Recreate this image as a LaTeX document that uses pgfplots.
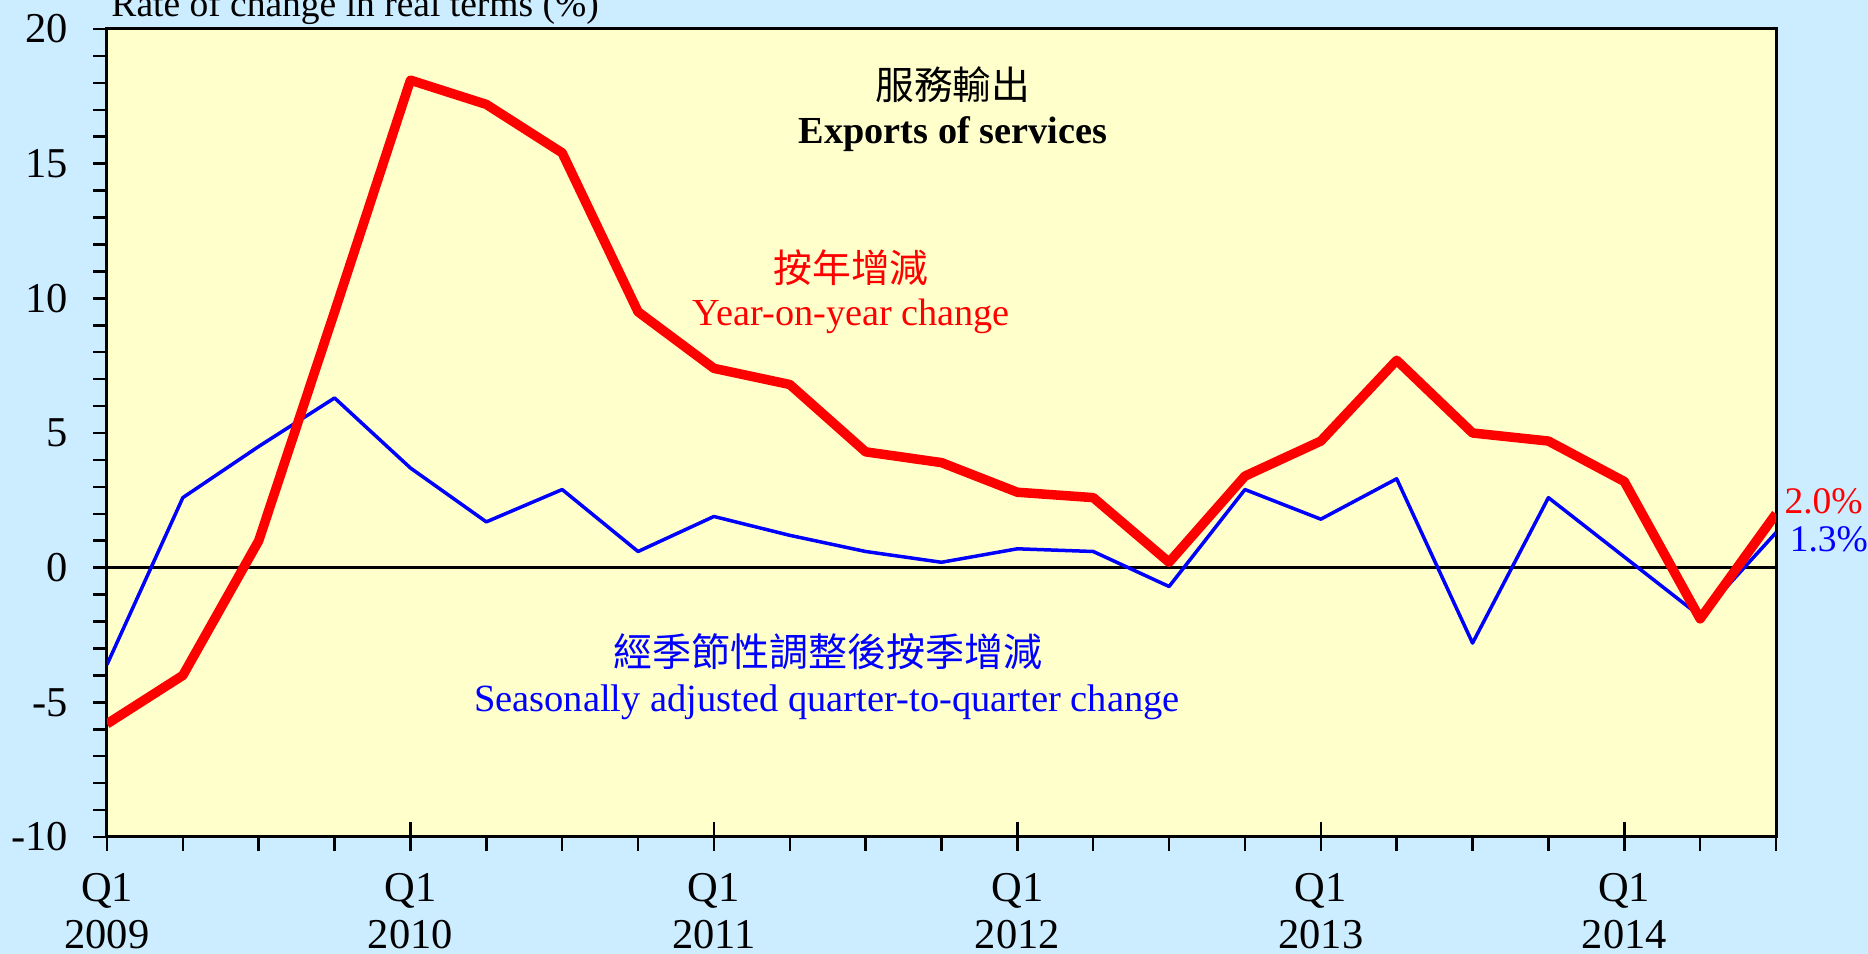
\documentclass[border=0pt]{standalone}
\usepackage{fontspec}
\setmainfont{Liberation Serif}
\newfontfamily\cjk{Noto Sans CJK TC}
\usepackage{pgfplots}
\pgfplotsset{compat=1.18}
\definecolor{bgblue}{HTML}{CCECFF}
\definecolor{plotyellow}{HTML}{FFFFCC}
\begin{document}
\begin{tikzpicture}
\fill[bgblue] (-42.8pt,-46.8pt) rectangle (704.4pt,334.8pt);
\useasboundingbox (-42.8pt,-46.8pt) rectangle (704.4pt,334.8pt);
\begin{axis}[
  at={(0,0)}, anchor=south west, scale only axis,
  width=667.6pt, height=323.2pt,
  xmin=0, xmax=22, ymin=-10, ymax=20,
  axis background/.style={fill=plotyellow},
  axis line style={black, line width=1.2pt},
  clip mode=individual,
  tick align=outside,
  xtick pos=bottom, ytick pos=left,
  major tick length=5.5pt, minor tick length=5.5pt,
  tick style={black, line width=1pt},
  xtick={0,4,8,12,16,20},
  xticklabels={{Q1\\2009},{Q1\\2010},{Q1\\2011},{Q1\\2012},{Q1\\2013},{Q1\\2014}},
  minor xtick={1,2,3,5,6,7,9,10,11,13,14,15,17,18,19,21,22},
  ytick={-10,-5,...,20},
  minor ytick={-9,...,19},
  xticklabel style={align=center, font=\fontsize{17}{18.8}\selectfont, yshift=-5.5pt},
  yticklabel style={font=\fontsize{17}{18}\selectfont, xshift=-6.5pt},
  /pgf/number format/assume math mode=true,
]
\addplot[black, line width=1pt] coordinates {(0,0) (22,0)};
\pgfplotsinvokeforeach{4,8,12,16,20}{\draw[black, line width=1pt] (axis cs:#1,-10) -- ++(0pt,6pt);}
% Seasonally adjusted q-o-q
\addplot[blue, line width=1.4pt, line join=round] coordinates {
(0,-3.6) (1,2.6) (2,4.5) (3,6.3) (4,3.7) (5,1.7) (6,2.9) (7,0.6)
(8,1.9) (9,1.2) (10,0.6) (11,0.2) (12,0.7) (13,0.6) (14,-0.7) (15,2.9)
(16,1.8) (17,3.3) (18,-2.8) (19,2.6) (20,0.4) (21,-1.8) (22,1.3)};
% Year-on-year
\addplot[red, line width=3.8pt, line join=round] coordinates {
(0,-5.8) (1,-4.0) (2,1.0) (3,9.5) (4,18.1) (5,17.2) (6,15.4) (7,9.5)
(8,7.4) (9,6.8) (10,4.3) (11,3.9) (12,2.8) (13,2.6) (14,0.2) (15,3.4)
(16,4.7) (17,7.7) (18,5.0) (19,4.7) (20,3.2) (21,-1.9) (22,2.0)};
\node[anchor=base, font=\fontsize{15.5}{18}\selectfont\cjk] at (axis cs:11.15,17.4) {服務輸出};
\node[anchor=base, font=\fontsize{15.3}{18}\selectfont\bfseries] at (axis cs:11.15,15.75) {Exports of services};
\node[anchor=base, red, font=\fontsize{15.5}{18}\selectfont\cjk] at (axis cs:9.81,10.6) {按年增減};
\node[anchor=base, red, font=\fontsize{15.3}{18}\selectfont] at (axis cs:9.81,8.98) {Year-on-year change};
\node[anchor=base, blue, font=\fontsize{15.6}{18}\selectfont\cjk] at (axis cs:9.5,-3.67) {經季節性調整後按季增減};
\node[anchor=base, blue, font=\fontsize{15.4}{18}\selectfont] at (axis cs:9.49,-5.35) {Seasonally adjusted quarter-to-quarter change};
\node[anchor=west, inner sep=0pt, red, font=\fontsize{15}{18}\selectfont] at (axis cs:22,2.48) [xshift=3.2pt] {2.0\%};
\node[anchor=west, inner sep=0pt, blue, font=\fontsize{15}{18}\selectfont] at (axis cs:22,1.06) [xshift=5.3pt] {1.3\%};
\node[anchor=base west, inner sep=0pt, font=\fontsize{15}{18}\selectfont] at (rel axis cs:0,1) [xshift=1.6pt, yshift=5pt] {Rate of change in real terms (\%)};
\end{axis}
\end{tikzpicture}
\end{document}
